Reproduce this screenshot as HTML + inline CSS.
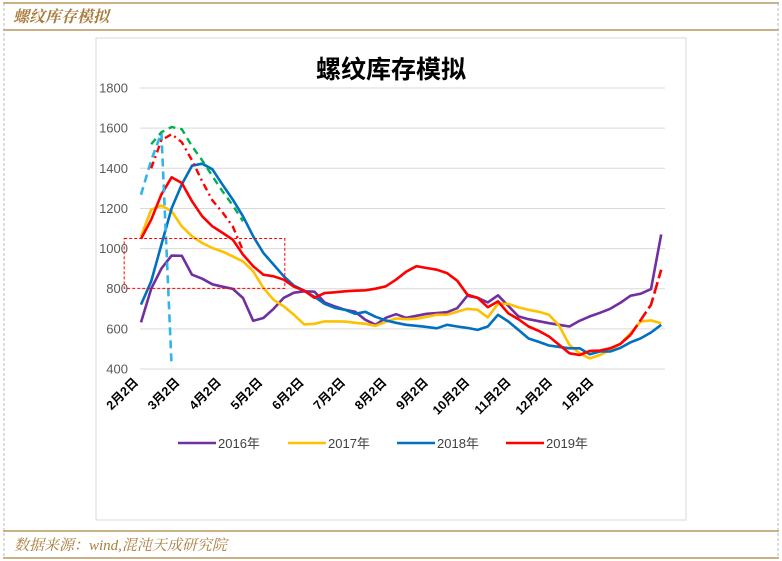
<!DOCTYPE html>
<html><head><meta charset="utf-8"><style>
body{margin:0;background:#fff;}
svg{display:block;font-family:"Liberation Sans","Noto Sans CJK SC",sans-serif;}
</style></head><body>
<svg id="chart" width="782" height="561" viewBox="0 0 782 561">
<line x1="3" y1="3" x2="779" y2="3" stroke="#b8985e" stroke-width="1.5"/>
<line x1="3" y1="30" x2="779" y2="30" stroke="#b8985e" stroke-width="1.5"/>
<line x1="4" y1="3" x2="4" y2="558" stroke="#bbb" stroke-dasharray="3 2"/>
<line x1="778" y1="3" x2="778" y2="558" stroke="#bbb" stroke-dasharray="3 2"/>
<line x1="3" y1="531" x2="779" y2="531" stroke="#b8985e" stroke-width="1.5"/>
<line x1="3" y1="558" x2="779" y2="558" stroke="#b8985e" stroke-width="1.5"/>
<text x="13" y="22" font-size="16" fill="#a87e3e" font-style="italic" font-weight="bold" style="font-family:'Liberation Serif','Noto Serif CJK SC',serif">螺纹库存模拟</text>
<text x="14" y="550" font-size="15" fill="#a87e3e" font-style="italic" style="font-family:'Liberation Serif','Noto Serif CJK SC',serif">数据来源：wind,混沌天成研究院</text>
<rect x="96" y="38" width="590" height="482" fill="#fff" stroke="#d9d9d9"/>
<text x="391" y="78" font-size="25" font-weight="bold" text-anchor="middle" fill="#000">螺纹库存模拟</text>
<g id="grid"></g><g id="ylabels"></g><g id="xlabels"></g><g id="series"></g><g id="legend"></g>
</svg>
<script>
const yTicks=[400,600,800,1000,1200,1400,1600,1800];
const xTickLabels=["2月2日","3月2日","4月2日","5月2日","6月2日","7月2日","8月2日","9月2日","10月2日","11月2日","12月2日","1月2日"];
const xTickWeeks=[0,4,8,12,16,20,24,28,32,36,40,44];
const s2016=[632,800,900,965,964,870,850,822,810,799,754,640,654,700,755,780,787,785,732,712,695,685,645,620,655,673,655,665,675,679,683,703,765,755,732,767,715,662,648,638,628,620,612,640,662,680,700,730,765,775,798,1070];
const s2017=[1061,1194,1214,1186,1111,1061,1028,1003,985,961,936,887,804,745,712,670,622,625,637,637,636,630,625,615,635,652,648,650,660,670,670,685,700,695,657,725,725,707,695,685,670,615,520,478,453,470,495,525,578,637,642,628];
const s2018=[721,837,1020,1200,1320,1413,1423,1395,1318,1244,1161,1061,978,920,862,815,790,760,725,705,695,675,685,660,642,630,620,615,610,603,620,612,605,595,612,670,637,595,552,535,517,510,503,503,473,487,487,505,533,553,582,620];
const s2019=[1048,1144,1270,1355,1327,1236,1161,1111,1078,1044,970,912,870,862,845,810,790,755,778,782,787,790,792,800,812,845,885,912,903,895,878,840,770,755,708,737,678,648,612,590,562,520,478,470,490,492,503,525,570,645,720,895];
const projCyan=[1268,1440,1577,415];
const projRed=[null,1400,1540,1570,1530,1440,1335,1240,1180,1110,990];
const projGreen=[null,1520,1580,1606,1595,1510,1440,1360,1285,1215,1136];
const boxWeeks=[-1.65,14.1], boxVals=[1050,802];
const legendNames=["2016年","2017年","2018年","2019年"];
const colors=["#7030a0","#ffc000","#0070c0","#ff0000"];

const X=i=>141+i*10.2;
const XL=i=>139+i*10.35;
const Y=v=>369-(v-400)*0.2007;
const NS="http://www.w3.org/2000/svg";
function mk(tag,attrs,parent){const e=document.createElementNS(NS,tag);for(const k in attrs)e.setAttribute(k,attrs[k]);parent.appendChild(e);return e;}
const grid=document.getElementById('grid'),yl=document.getElementById('ylabels'),xl=document.getElementById('xlabels'),ser=document.getElementById('series'),lg=document.getElementById('legend');
yTicks.forEach(v=>{
 const l=mk('line',{x1:140,x2:665,y1:Y(v),y2:Y(v),stroke:'#d9d9d9','stroke-width':1},grid);
 
 
 const t=mk('text',{x:128,y:Y(v)+4.5,'text-anchor':'end','font-size':13,fill:'#595959'},yl);
 t.textContent=v;
 
 
});
xTickLabels.forEach((s,k)=>{
 const x=XL(xTickWeeks[k]);
 const t=mk('text',{x:0,y:0,'text-anchor':'end','font-size':12.5,'font-weight':'bold',fill:'#000',transform:`translate(${x},${383}) rotate(-45)`},xl);
 t.textContent=s;
 
 
});
function pathD(arr){let d='';arr.forEach((v,i)=>{if(v==null)return;d+=(d?'L':'M')+X(i).toFixed(1)+','+Y(v).toFixed(1);});return d;}
[s2016,s2017,s2018].forEach((arr,k)=>{
 const p=mk('path',{d:pathD(arr),fill:'none',stroke:colors[k],'stroke-width':2.6,'stroke-linejoin':'round'},ser);
 
 
});
const solid=s2019.slice(0,49);
const p19=mk('path',{d:pathD(solid),fill:'none',stroke:colors[3],'stroke-width':2.6,'stroke-linejoin':'round'},ser);


const tail=s2019.map((v,i)=>i>=48?v:null);
const p19b=mk('path',{d:pathD(tail),fill:'none',stroke:colors[3],'stroke-width':2.6,'stroke-dasharray':'12 4'},ser);


const pc=mk('path',{d:pathD(projCyan),fill:'none',stroke:'#2eb6ea','stroke-width':2.6,'stroke-dasharray':'8 5'},ser);


const pg=mk('path',{d:pathD(projGreen),fill:'none',stroke:'#00b050','stroke-width':2.4,'stroke-dasharray':'7 5'},ser);


const pr=mk('path',{d:pathD(projRed),fill:'none',stroke:'#ff0000','stroke-width':2.4,'stroke-dasharray':'7 4 2 4'},ser);


const bx=mk('rect',{x:X(boxWeeks[0]),y:Y(boxVals[0]),width:X(boxWeeks[1])-X(boxWeeks[0]),height:Y(boxVals[1])-Y(boxVals[0]),fill:'none',stroke:'#ff0000','stroke-width':1,'stroke-dasharray':'3 2'},ser);


const lx=[178,288,397,506];
legendNames.forEach((n,k)=>{
 const l=mk('line',{x1:lx[k],x2:lx[k]+38,y1:443,y2:443,stroke:colors[k],'stroke-width':2.6},lg);
 
 
 const t=mk('text',{x:lx[k]+40,y:448,'font-size':13,fill:'#404040'},lg);
 t.textContent=n;
 
 
});
</script>
</body></html>
